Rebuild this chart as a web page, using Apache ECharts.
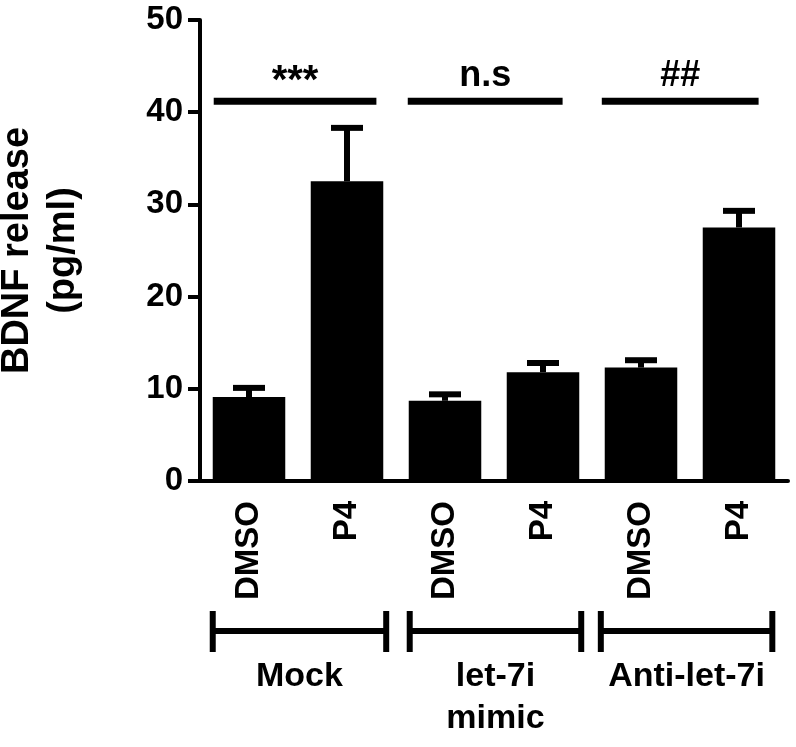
<!DOCTYPE html>
<html>
<head>
<meta charset="UTF-8">
<title>BDNF release</title>
<script src="https://cdn.jsdelivr.net/npm/echarts@6/dist/echarts.min.js"></script>
<style>
  html, body { margin: 0; padding: 0; background: #fff; }
  #main { width: 796px; height: 747px; }
</style>
</head>
<body>
<div id="main"></div>
<script type="text/javascript">
// data
var categories = ['DMSO', 'P4', 'DMSO', 'P4', 'DMSO', 'P4'];
var means = [9.1, 32.5, 8.7, 11.8, 12.3, 27.5];
var sems = [1.0, 5.8, 0.7, 1.0, 0.8, 1.8];
var yTicks = [0, 10, 20, 30, 40, 50];

// significance bars (x in category index units)
var sigLabels = ['***', 'n.s', '##'];
var sigStart = [-0.36, 1.62, 3.6];
var sigEnd = [1.3, 3.2, 5.2];
var sigLevel = 41.2;

// group brackets under the axis
var groupLabels = ['Mock', 'let-7i\nmimic', 'Anti-let-7i'];
var groupStart = [-0.37, 1.64, 3.59];
var groupEnd = [1.4, 3.39, 5.34];

var FONT = 'Liberation Sans';

var chart = echarts.init(document.getElementById('main'));

var errData = [];
for (var i = 0; i < means.length; i++) {
    errData.push([i, means[i], means[i] + sems[i]]);
}
var sigData = [];
for (var j = 0; j < sigLabels.length; j++) {
    sigData.push([sigStart[j], sigEnd[j], sigLevel, j]);
}
var grpData = [];
for (var k = 0; k < groupLabels.length; k++) {
    grpData.push([groupStart[k], groupEnd[k], k]);
}

chart.setOption({
    animation: false,
    backgroundColor: '#fff',
    grid: { left: 200, right: 8, top: 20, bottom: 266, containLabel: false, outerBoundsMode: 'none' },
    xAxis: [
        {
            type: 'category',
            data: categories,
            axisLine: { lineStyle: { color: '#000', width: 4 } },
            axisTick: { alignWithLabel: true, length: 12, lineStyle: { color: '#000', width: 4 } },
            axisLabel: {
                rotate: 90, margin: 20, color: '#000',
                fontSize: 33, fontWeight: 'bold', fontFamily: FONT
            },
            splitLine: { show: false }
        },
        { type: 'value', min: -0.5, max: 5.5, show: false }
    ],
    yAxis: {
        type: 'value',
        min: 0, max: 50, interval: 10,
        name: 'BDNF release\n(pg/ml)',
        nameLocation: 'middle',
        nameRotate: 90,
        nameGap: 113,
        nameTextStyle: {
            color: '#000', fontSize: 38, fontWeight: 'bold', fontFamily: FONT,
            lineHeight: 46, align: 'center'
        },
        axisLine: { show: true, onZero: false, lineStyle: { color: '#000', width: 4 } },
        axisTick: { show: true, length: 12, lineStyle: { color: '#000', width: 4 } },
        axisLabel: {
            margin: 17, color: '#000', fontSize: 33, fontWeight: 'bold', fontFamily: FONT,
            formatter: function (v) { return yTicks.indexOf(v) >= 0 ? String(v) : ''; }
        },
        splitLine: { show: false }
    },
    series: [
        {
            type: 'bar',
            data: means,
            barCategoryGap: '26%',
            itemStyle: { color: '#000' }
        },
        {
            // upper error bars
            type: 'custom',
            xAxisIndex: 0,
            data: errData,
            z: 3,
            renderItem: function (params, api) {
                var top = api.coord([api.value(0), api.value(1)]);
                var hi = api.coord([api.value(0), api.value(2)]);
                var style = { stroke: '#000', lineWidth: 6 };
                return {
                    type: 'group',
                    children: [
                        { type: 'line', shape: { x1: top[0], y1: top[1], x2: hi[0], y2: hi[1] }, style: style },
                        { type: 'line', shape: { x1: hi[0] - 16, y1: hi[1], x2: hi[0] + 16, y2: hi[1] }, style: style }
                    ]
                };
            }
        },
        {
            // significance lines and marks
            type: 'custom',
            xAxisIndex: 1,
            data: sigData,
            clip: false,
            renderItem: function (params, api) {
                var a = api.coord([api.value(0), api.value(2)]);
                var b = api.coord([api.value(1), api.value(2)]);
                var label = sigLabels[api.value(3)];
                var star = label === '***';
                return {
                    type: 'group',
                    children: [
                        { type: 'line', shape: { x1: a[0], y1: a[1], x2: b[0], y2: b[1] },
                          style: { stroke: '#000', lineWidth: 7 } },
                        { type: 'text', x: (a[0] + b[0]) / 2, y: a[1] - (star ? -1 : 7),
                          style: { text: label, fill: '#000', font: 'bold ' + (star ? 40 : 36) + 'px ' + FONT,
                                   align: 'center', verticalAlign: 'bottom' } }
                    ]
                };
            }
        },
        {
            // group brackets below the axis
            type: 'custom',
            xAxisIndex: 1,
            data: grpData,
            clip: false,
            renderItem: function (params, api) {
                var a = api.coord([api.value(0), 0]);
                var b = api.coord([api.value(1), 0]);
                var y = a[1] + 150;
                var st = { stroke: '#000', lineWidth: 6 };
                return {
                    type: 'group',
                    children: [
                        { type: 'line', shape: { x1: a[0], y1: y, x2: b[0], y2: y }, style: st },
                        { type: 'line', shape: { x1: a[0], y1: y - 20, x2: a[0], y2: y + 21 }, style: st },
                        { type: 'line', shape: { x1: b[0], y1: y - 20, x2: b[0], y2: y + 21 }, style: st },
                        { type: 'text', x: (a[0] + b[0]) / 2, y: y + 25,
                          style: { text: groupLabels[api.value(2)], fill: '#000',
                                   font: 'bold 34px ' + FONT, lineHeight: 42,
                                   align: 'center', verticalAlign: 'top' } }
                    ]
                };
            }
        }
    ]
});
</script>
</body>
</html>
